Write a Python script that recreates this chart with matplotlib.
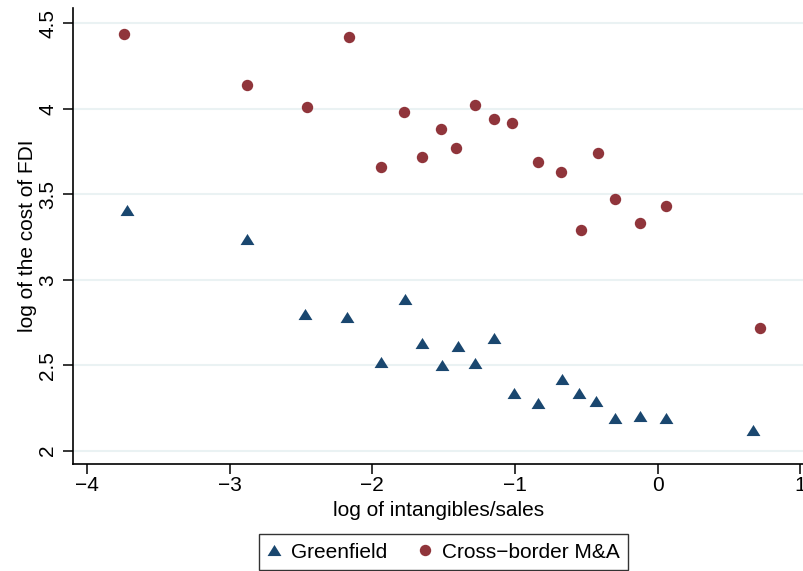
import matplotlib
matplotlib.use("Agg")
import matplotlib.pyplot as plt

plt.rcParams["font.family"] = ["Liberation Sans", "DejaVu Sans"]

# Greenfield (triangles)
gf_x = [-3.72, -2.88, -2.47, -2.18, -1.94, -1.77, -1.65, -1.51, -1.40, -1.28,
        -1.15, -1.01, -0.84, -0.67, -0.55, -0.43, -0.30, -0.12, 0.06, 0.67]
gf_y = [3.41, 3.24, 2.80, 2.78, 2.52, 2.89, 2.63, 2.50, 2.61, 2.51,
        2.66, 2.34, 2.28, 2.42, 2.34, 2.29, 2.19, 2.20, 2.19, 2.12]

# Cross-border M&A (circles)
ma_x = [-3.74, -2.88, -2.46, -2.16, -1.94, -1.78, -1.65, -1.52, -1.41, -1.28,
        -1.15, -1.02, -0.84, -0.68, -0.54, -0.42, -0.30, -0.12, 0.06, 0.72]
ma_y = [4.44, 4.14, 4.01, 4.42, 3.66, 3.98, 3.72, 3.88, 3.77, 4.02,
        3.94, 3.92, 3.69, 3.63, 3.29, 3.74, 3.47, 3.33, 3.43, 2.72]

x_ticks = [-4, -3, -2, -1, 0, 1]
y_ticks = [2, 2.5, 3, 3.5, 4, 4.5]
y_labels = ["2", "2.5", "3", "3.5", "4", "4.5"]

navy = "#1a476f"
maroon = "#90353b"
tri = [(-1, -0.8), (1, -0.8), (0, 0.8)]

fig = plt.figure(figsize=(8.04, 5.71), dpi=100)
ax = fig.add_axes([0.0908, 0.188, 0.909, 0.798])

ax.set_axisbelow(True)
ax.grid(axis="y", color="#eaf2f3", linewidth=1.5)
ax.grid(axis="x", visible=False)

ax.plot(gf_x, gf_y, linestyle="none", marker=tri, markersize=10,
        color=navy, markeredgewidth=0, label="Greenfield")
ax.plot(ma_x, ma_y, linestyle="none", marker="o", markersize=8.2,
        color=maroon, markeredgewidth=0, label="Cross\u2212border M&A")

ax.set_xlim(-4.098, 1.025)
ax.set_ylim(1.924, 4.59)
ax.set_xticks(x_ticks)
ax.set_xticklabels([str(t).replace("-", "\u2212") for t in x_ticks])
ax.set_yticks(y_ticks)
ax.set_yticklabels(y_labels, rotation=90, va="center")

for s in ["top", "right"]:
    ax.spines[s].set_visible(False)
for s in ["left", "bottom"]:
    ax.spines[s].set_color("black")
    ax.spines[s].set_linewidth(1.2)

ax.tick_params(axis="both", direction="out", length=7, width=1.1,
               labelsize=15, colors="black")
ax.tick_params(axis="x", pad=2)
ax.tick_params(axis="y", pad=4.5)

ax.set_xlabel("log of intangibles/sales", fontsize=15, labelpad=4)
ax.set_ylabel("log of the cost of FDI", fontsize=15, labelpad=1)

leg = fig.legend(loc="upper center", bbox_to_anchor=(0.5516, 0.0643), ncol=2,
                 fontsize=15, frameon=True, fancybox=False, handletextpad=0.5,
                 columnspacing=1.5, handlelength=0.65, borderpad=0.4,
                 borderaxespad=0)
leg.get_frame().set_edgecolor("black")
leg.get_frame().set_linewidth(1.0)

fig.savefig("out.png", dpi=100)
